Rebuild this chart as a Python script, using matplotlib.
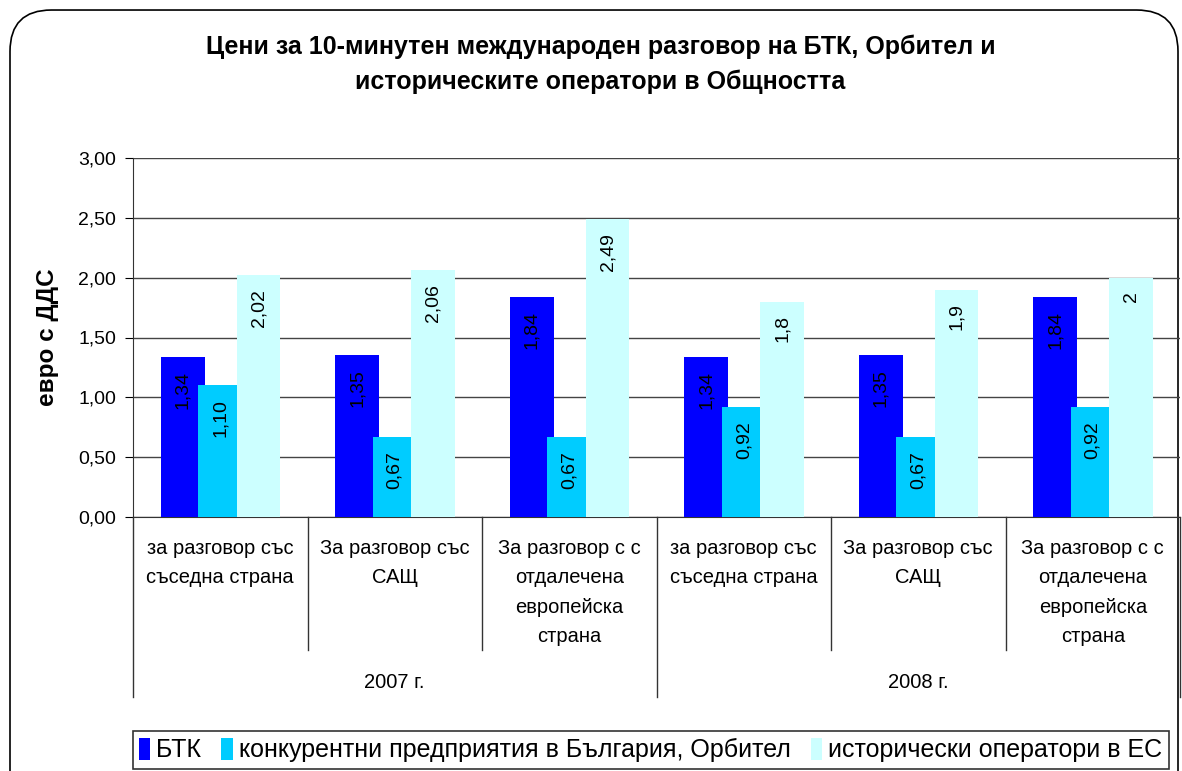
import numpy as np
import matplotlib
matplotlib.use("Agg")
import matplotlib.pyplot as plt
from matplotlib.patches import FancyBboxPatch, Patch
import matplotlib.transforms as mtransforms

plt.rcParams['font.family'] = ['Liberation Sans', 'DejaVu Sans']

categories = [
    "за разговор със\nсъседна страна",
    "За разговор със\nСАЩ",
    "За разговор с с\nотдалечена\nевропейска\nстрана",
    "за разговор със\nсъседна страна",
    "За разговор със\nСАЩ",
    "За разговор с с\nотдалечена\nевропейска\nстрана",
]
years = ["2007 г.", "2008 г."]
series_names = ["БТК", "конкурентни предприятия в България, Орбител", "исторически оператори в ЕС"]
btk = [1.34, 1.35, 1.84, 1.34, 1.35, 1.84]
competitors = [1.10, 0.67, 0.67, 0.92, 0.67, 0.92]
incumbents = [2.02, 2.06, 2.49, 1.8, 1.9, 2.0]
value_labels = [
    ["1,34", "1,35", "1,84", "1,34", "1,35", "1,84"],
    ["1,10", "0,67", "0,67", "0,92", "0,67", "0,92"],
    ["2,02", "2,06", "2,49", "1,8", "1,9", "2"],
]
yticks = [0, 0.5, 1.0, 1.5, 2.0, 2.5, 3.0]
ytick_labels = ["0,00", "0,50", "1,00", "1,50", "2,00", "2,50", "3,00"]
colors = ["#0000FF", "#00CCFF", "#CCFFFF"]

W, H = 1182, 771
fig = plt.figure(figsize=(W / 100, H / 100), dpi=100)

# rounded chart-area border
border = FancyBboxPatch((10 / W, -0.1), 1168 / W, 1.087, boxstyle="round,pad=0,rounding_size=0.035",
                        transform=fig.transFigure, facecolor="none", edgecolor="black", lw=1.2,
                        mutation_aspect=W / H, zorder=-1)
fig.patches.append(border)

ax = fig.add_axes([133 / W, 1 - 517 / H, (1180 - 133) / W, (517 - 158) / H])
ax.patch.set_alpha(0)
x = np.arange(len(categories))
offsets = [-0.215, 0.0, 0.22]
for vals, off, col, labs in zip([btk, competitors, incumbents], offsets, colors, value_labels):
    bars = ax.bar(x + off, vals, width=0.25, color=col, zorder=3)
    for b, lab in zip(bars, labs):
        ax.annotate(lab, (b.get_x() + b.get_width() / 2, b.get_height()), xytext=(0, -10),
                    textcoords="offset points", rotation=90, ha="center", va="top", fontsize=14,
                    zorder=4)

ax.set_xlim(-0.5, 5.5)
ax.set_ylim(0, 3.0)
ax.set_yticks(yticks)
ax.set_yticklabels(ytick_labels, fontsize=14)
ax.tick_params(axis="y", length=6, direction="out", pad=6)
ax.set_xticks([])
ax.grid(axis="y", color="#444444", lw=1.0, zorder=0)
ax.spines["top"].set_visible(False)
ax.spines["right"].set_visible(False)
ax.spines["left"].set_color("#333333")
ax.spines["bottom"].set_color("#333333")
ax.axhline(3.0, color="#999999", lw=1.2, zorder=1)
ax.set_ylabel("евро с ДДС", fontsize=17.5, fontweight="bold", labelpad=14)

# category axis table
trans = mtransforms.blended_transform_factory(ax.transData, ax.transAxes)
for xi, cat in zip(x, categories):
    ax.text(xi, -0.06, cat, transform=trans, ha="center", va="top", fontsize=14.5,
            linespacing=1.7)
for b in [0.5, 1.5, 3.5, 4.5]:
    ax.plot([b, b], [0, -0.37], transform=trans, color="#333333", lw=1, clip_on=False)
for b in [-0.5, 2.5, 5.5]:
    ax.plot([b, b], [0, -0.50], transform=trans, color="#333333", lw=1, clip_on=False)
for i, yr in enumerate(years):
    ax.text(1 + 3 * i, -0.462, yr, transform=trans, ha="center", va="center", fontsize=14.5)

fig.text(0.508, 1 - 64 / H, "Цени за 10-минутен международен разговор на БТК, Орбител и\nисторическите оператори в Общността",
         ha="center", va="center", fontsize=18, fontweight="bold", linespacing=1.55)

handles = [Patch(facecolor=c, edgecolor="none") for c in colors]
leg = fig.legend(handles, series_names, loc="lower left", bbox_to_anchor=(130 / W, 0.0),
                 fontsize=18, frameon=True, fancybox=False, handlelength=0.45, handleheight=1.0,
                 handletextpad=0.25, columnspacing=0.8, ncol=3, borderpad=0.25, borderaxespad=0.1)
leg.get_frame().set_edgecolor("black")
leg.get_frame().set_linewidth(1.2)

fig.savefig("out.png", dpi=100)
